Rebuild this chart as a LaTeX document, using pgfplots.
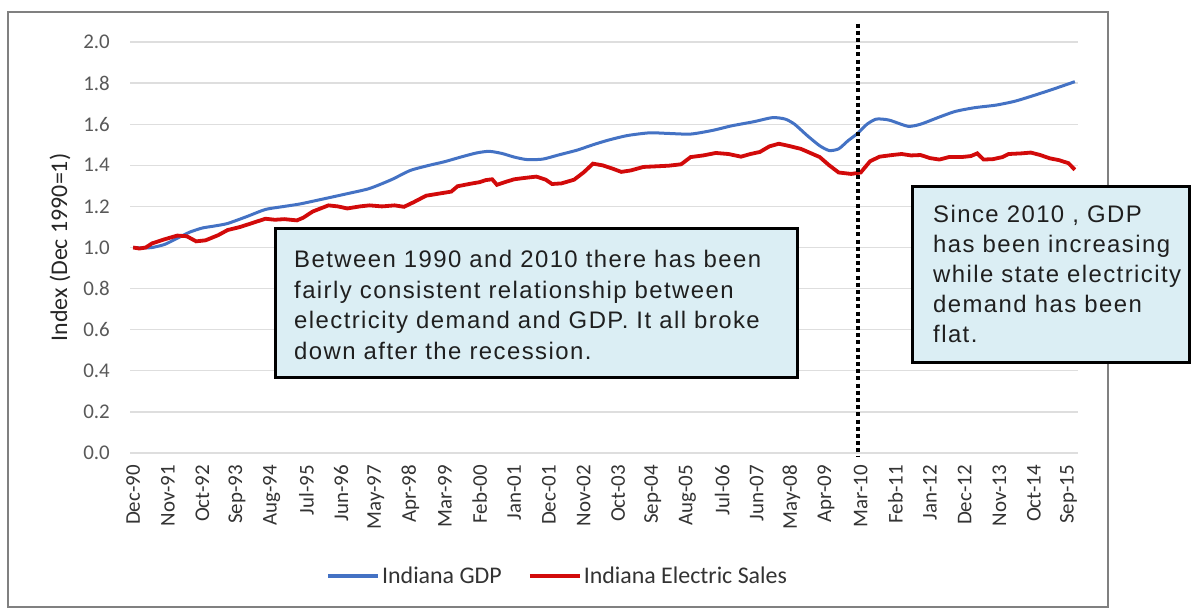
\documentclass[border=0pt]{standalone}
\usepackage{fontspec}
\usepackage{pgfplots}
\pgfplotsset{compat=1.18}
\setmainfont{Carlito}
\newfontfamily\boxfont[LetterSpace=6]{Liberation Sans}
\definecolor{gdpblue}{RGB}{68,114,196}
\definecolor{salesred}{RGB}{210,10,10}
\definecolor{boxblue}{RGB}{219,238,244}
\definecolor{gridgray}{RGB}{222,222,222}
\begin{document}
\begin{tikzpicture}[x=1bp,y=1bp]
\useasboundingbox (0,0) rectangle (1192,-611);
\fill[white] (0,0) rectangle (1192,-611);
\draw[black!50, line width=2.5bp] (8,-12) rectangle (1108,-607);
\begin{axis}[
  at={(130bp,-453bp)}, anchor=south west,
  scale only axis, width=948bp, height=411bp,
  xmin=-1, xmax=300, ymin=0, ymax=2,
  clip=false,
  axis line style={draw=none},
  major tick length=0pt,
  ymajorgrids, grid style={gridgray, line width=1.3bp},
  ytick={0,0.2,0.4,0.6,0.8,1.0,1.2,1.4,1.6,1.8,2.0},
  yticklabels={0.0,0.2,0.4,0.6,0.8,1.0,1.2,1.4,1.6,1.8,2.0},
  xtick={0,11,...,297},
  xticklabels={Dec-90,Nov-91,Oct-92,Sep-93,Aug-94,Jul-95,Jun-96,May-97,Apr-98,Mar-99,Feb-00,Jan-01,Dec-01,Nov-02,Oct-03,Sep-04,Aug-05,Jul-06,Jun-07,May-08,Apr-09,Mar-10,Feb-11,Jan-12,Dec-12,Nov-13,Oct-14,Sep-15},
  yticklabel style={font=\fontsize{21}{21}\selectfont, text=black!65, anchor=east, inner sep=0pt, xshift=-20bp},
  xticklabel style={font=\fontsize{21}{21}\selectfont, text=black!80, rotate=90, anchor=east, inner sep=0pt, xshift=-12bp},
  ylabel={Index (Dec 1990=1)},
  ylabel style={font=\fontsize{24}{24}\selectfont, text=black!85, at={(axis description cs:-0.0738,0.5)}, anchor=center},
  legend columns=2,
  legend style={draw=none, fill=none, at={(axis description cs:0.451,-0.299)}, anchor=center,
    font=\fontsize{24}{24}\selectfont, text=black!80,
    /tikz/every even column/.append style={column sep=24bp}},
  legend image code/.code={\draw[#1, line width=4bp] (0bp,0bp) -- (50bp,0bp);},
]
\addplot[color=gdpblue, line width=3bp, smooth, tension=0.4] table {
x y
0 1.000
3 0.998
6 1.000
10 1.015
14 1.045
18 1.075
22 1.095
26 1.105
30 1.117
36 1.150
42 1.185
48 1.200
53 1.212
60 1.235
68 1.262
75 1.287
82 1.330
88 1.375
94 1.400
99 1.418
104 1.440
109 1.460
113 1.468
117 1.458
121 1.440
125 1.428
130 1.430
135 1.450
141 1.474
146 1.500
151 1.523
157 1.545
164 1.558
170 1.555
177 1.552
184 1.570
190 1.592
197 1.612
203 1.632
207 1.625
210 1.600
214 1.545
218 1.495
221 1.472
224 1.480
227 1.520
230 1.555
233 1.600
236 1.625
240 1.620
246 1.590
250 1.600
256 1.635
261 1.662
267 1.680
274 1.693
280 1.712
286 1.740
292 1.770
299 1.807
};
\addlegendentry{Indiana GDP}
\addplot[color=salesred, line width=3.8bp] table {
x y
0 1.000
2 0.995
4 1.000
6 1.020
10 1.040
14 1.058
17 1.055
20 1.030
23 1.035
27 1.060
30 1.085
34 1.100
38 1.120
42 1.140
45 1.135
48 1.138
52 1.132
54 1.145
57 1.175
62 1.205
65 1.200
68 1.190
72 1.200
75 1.205
79 1.200
83 1.205
86 1.198
89 1.220
93 1.252
97 1.262
101 1.272
103 1.298
107 1.310
110 1.318
112 1.328
114 1.332
115.5 1.305
118 1.318
121 1.332
124 1.338
128 1.345
131 1.330
133 1.309
136 1.312
140 1.330
143 1.365
146 1.408
149 1.400
152 1.385
155 1.368
158 1.375
162 1.392
166 1.395
170 1.398
174 1.405
177 1.440
181 1.448
185 1.460
189 1.455
193 1.442
196 1.455
199 1.465
202 1.492
205 1.505
208 1.495
212 1.480
215 1.460
218 1.440
221 1.400
224 1.365
228 1.358
231 1.365
234 1.420
237 1.442
241 1.450
244 1.455
247 1.448
250 1.450
253 1.435
256 1.428
259 1.440
263 1.440
266 1.445
268 1.458
270 1.428
273 1.430
276 1.440
278 1.455
282 1.458
285 1.462
288 1.450
291 1.434
294 1.425
297 1.410
299 1.378
};
\addlegendentry{Indiana Electric Sales}
\draw[black, line width=4bp, dash pattern=on 4bp off 3.2bp] (axis cs:230.3,2.09) -- (axis cs:230.3,-0.015);
\end{axis}
% annotation box 1
\draw[fill=boxblue, draw=black, line width=3bp] (275,-229) rectangle (797,-377);
\begin{scope}[every node/.style={anchor=base west, inner sep=0pt, font=\boxfont\fontsize{24}{24}\selectfont, text=black!88}]
\node at (294,-268) {Between 1990 and 2010 there has been};
\node at (294,-298.5) {fairly consistent relationship between};
\node at (294,-329) {electricity demand and GDP. It all broke};
\node at (294,-359.5) {down after the recession.};
\end{scope}
% annotation box 2
\draw[fill=boxblue, draw=black, line width=3bp] (912,-187) rectangle (1189.5,-362);
\begin{scope}[every node/.style={anchor=base west, inner sep=0pt, font=\boxfont\fontsize{24}{24}\selectfont, text=black!88}]
\node at (933,-223) {Since 2010 , GDP};
\node at (933,-253) {has been increasing};
\node at (933,-283) {while state electricity};
\node at (933,-313) {demand has been};
\node at (933,-343) {flat.};
\end{scope}
\end{tikzpicture}
\end{document}
